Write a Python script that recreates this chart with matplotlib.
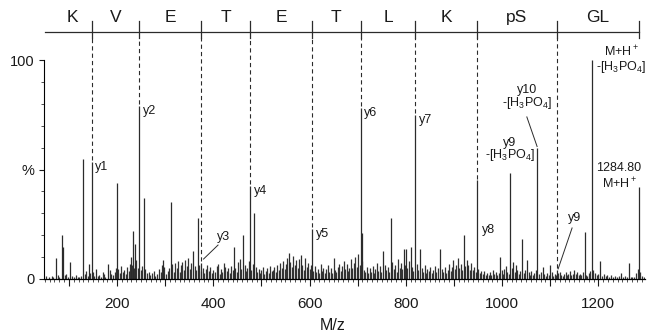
"""MS/MS spectrum of phosphopeptide with y-ion ladder annotation."""

import matplotlib

matplotlib.use("Agg")
import matplotlib.pyplot as plt
from matplotlib.ticker import MultipleLocator, FixedLocator, FuncFormatter

plt.rcParams["font.family"] = ["Liberation Sans", "DejaVu Sans"]
plt.rcParams["mathtext.fontset"] = "custom"
plt.rcParams["mathtext.rm"] = "Liberation Sans"
plt.rcParams["mathtext.it"] = "Liberation Sans:italic"

# residue ladder (read right to left on the y-ion series)
residues = ["K", "V", "E", "T", "E", "T", "L", "K", "pS", "GL"]
ladder_start = 69.0
y_ion_mz = [147.1, 246.2, 375.2, 476.3, 605.3, 706.4, 819.5, 947.6, 1114.6, 1284.8]
y_ion_int = [53.5, 79.0, 7.5, 42.5, 23.0, 78.0, 75.0, 45.0, 4.2]
y_ion_names = ["y1", "y2", "y3", "y4", "y5", "y6", "y7", "y8", "y9"]

# other prominent peaks
peak_mz = [73.2, 85.7, 87.8, 102.3, 129.3, 141.8, 156.4, 181.3, 200.0, 229.1,
           233.2, 237.4, 256.1, 295.6, 312.2, 357.9, 368.3, 443.1, 461.8, 484.7,
           557.4, 582.4, 708.5, 752.7, 769.4, 796.4, 800.5, 810.9, 829.6, 871.2,
           921.1, 927.3, 995.9, 1016.6, 1022.9, 1029.1, 1041.6, 1052.0, 1073.6,
           1085.2, 1099.8, 1171.6, 1186.8, 1203.7, 1247.3, 1263.9, 1284.8]
peak_int = [9.6, 20.0, 14.5, 7.8, 55.0, 6.8, 4.5, 6.8, 44.0, 10.0,
            22.0, 16.0, 37.0, 8.7, 35.0, 13.0, 28.0, 14.5, 20.0, 30.0,
            12.0, 11.0, 21.0, 13.0, 28.0, 13.7, 13.7, 14.6, 13.7, 13.7,
            20.0, 8.7, 10.0, 48.5, 7.8, 6.4, 18.3, 8.7, 60.0,
            5.5, 6.4, 21.5, 100.0, 8.2, 2.7, 7.3, 42.0]

# low-level background peaks
noise_mz = [52, 58, 64, 68, 77, 80, 91, 95, 98, 106, 110, 114, 118, 122, 126, 133,
            136, 139, 144, 151, 153, 160, 163, 166, 170, 173, 176, 185, 188, 191, 195,
            198, 203, 206, 209, 212, 215, 218, 221, 224, 226, 231, 235, 240, 243, 249,
            252, 259, 262, 266, 269, 272, 276, 279, 283, 287, 291, 294, 298, 301, 305,
            308, 315, 318, 321, 324, 327, 330, 333, 336, 339, 342, 345, 348, 351, 354,
            361, 364, 371, 374, 378, 381, 384, 388, 391, 394, 397, 400, 404, 407, 410,
            413, 416, 419, 422, 425, 428, 431, 434, 437, 440, 446, 449, 452, 455, 458,
            465, 468, 471, 474, 479, 482, 488, 491, 494, 497, 500, 503, 506, 509, 512,
            515, 518, 521, 524, 527, 530, 533, 536, 539, 542, 545, 548, 551, 554, 560,
            563, 566, 569, 572, 575, 578, 585, 588, 591, 594, 597, 600, 603, 608, 611,
            614, 617, 620, 623, 626, 629, 632, 635, 638, 641, 644, 647, 650, 653, 656,
            659, 662, 665, 668, 671, 674, 677, 680, 683, 686, 689, 692, 695, 698, 701,
            704, 710, 713, 716, 719, 722, 725, 728, 731, 734, 737, 740, 743, 746, 749,
            756, 759, 762, 765, 772, 775, 778, 781, 784, 787, 790, 793, 799, 803, 806,
            813, 816, 823, 826, 833, 836, 839, 842, 845, 848, 851, 854, 857, 860, 863,
            866, 875, 878, 881, 884, 887, 890, 893, 896, 899, 902, 905, 908, 911, 914,
            917, 924, 930, 933, 936, 939, 942, 945, 951, 954, 957, 960, 963, 966, 969,
            972, 975, 978, 981, 984, 987, 990, 993, 999, 1002, 1005, 1008, 1011, 1014,
            1020, 1026, 1032, 1035, 1038, 1045, 1048, 1055, 1058, 1061, 1064, 1067,
            1070, 1077, 1080, 1088, 1091, 1094, 1097, 1103, 1106, 1109, 1112, 1117,
            1120, 1123, 1126, 1129, 1132, 1135, 1138, 1141, 1144, 1147, 1150, 1153,
            1156, 1159, 1162, 1165, 1168, 1174, 1177, 1180, 1183, 1189, 1193, 1197,
            1200, 1207, 1211, 1215, 1219, 1223, 1227, 1231, 1235, 1239, 1243, 1251,
            1255, 1259, 1267, 1271, 1275, 1279, 1282, 1287, 1291, 1295]
noise_int = [1.2, 0.8, 1.5, 0.9, 2.0, 1.1, 1.6, 2.4, 1.0, 1.3, 0.8, 1.8, 1.0, 0.7, 1.2, 2.2,
             3.5, 1.4, 2.8, 3.0, 1.5, 1.2, 2.0, 1.1, 3.4, 2.1, 1.0, 4.0, 2.5, 1.8, 3.2,
             5.0, 4.4, 2.6, 5.8, 3.0, 4.1, 2.3, 5.5, 3.6, 7.0, 6.5, 4.8, 8.5, 5.0, 3.9,
             6.0, 4.5, 2.8, 3.4, 1.9, 2.6, 3.8, 1.5, 2.2, 4.6, 3.0, 6.2, 5.3, 2.4, 3.6,
             4.9, 6.8, 3.1, 7.5, 5.0, 8.2, 3.3, 6.4, 7.9, 4.2, 8.8, 6.1, 9.5, 4.4, 7.2,
             5.8, 4.0, 6.6, 3.5, 5.2, 2.9, 4.7, 6.3, 3.8, 5.5, 2.7, 4.1, 3.2, 5.9, 6.8,
             2.5, 4.4, 3.0, 7.1, 5.4, 3.6, 4.8, 2.6, 6.0, 3.9, 5.1, 3.3, 7.8, 9.0, 4.5,
             6.2, 3.7, 5.0, 8.0, 4.3, 6.9, 5.6, 3.4, 4.6, 2.8, 3.9, 5.3, 2.4, 3.7, 4.8,
             2.9, 6.1, 3.5, 4.2, 5.7, 3.1, 6.6, 4.0, 7.3, 5.2, 8.4, 4.7, 6.9, 9.8, 7.6,
             5.4, 10.5, 6.2, 8.9, 5.0, 9.3, 6.4, 4.1, 9.6, 5.7, 7.4, 4.6, 6.5, 3.8, 5.9,
             3.0, 4.6, 2.7, 6.8, 3.5, 5.1, 2.9, 4.4, 6.6, 3.2, 5.0, 2.6, 9.8, 4.3, 3.1,
             5.6, 7.0, 3.8, 6.1, 8.3, 4.5, 6.9, 3.6, 5.2, 9.0, 4.8, 7.5, 10.0, 5.3, 11.2,
             6.6, 8.0, 4.2, 3.0, 5.4, 2.6, 4.9, 3.3, 6.0, 2.8, 4.4, 7.2, 3.5, 5.8, 3.1,
             6.3, 4.0, 5.5, 3.2, 7.7, 4.6, 6.2, 3.4, 9.0, 5.1, 7.3, 4.4, 6.6, 4.9, 8.1,
             5.5, 3.7, 6.8, 4.1, 5.0, 3.3, 6.4, 2.9, 4.7, 3.5, 5.6, 2.7, 4.2, 6.0, 3.4,
             5.1, 4.5, 3.0, 5.3, 2.6, 4.0, 6.7, 3.6, 5.4, 8.6, 4.4, 6.2, 9.4, 5.0, 7.0,
             4.1, 5.8, 6.5, 3.9, 7.1, 4.3, 5.5, 3.2, 4.6, 2.8, 3.7, 2.2, 3.5, 1.9, 2.8,
             1.6, 3.0, 2.0, 4.2, 2.5, 3.3, 1.8, 2.7, 3.9, 2.3, 4.6, 6.0, 3.1, 2.4,
             5.2, 3.4, 4.0, 2.2, 3.6, 2.8, 4.1, 3.0, 2.0, 3.5, 1.8, 2.6,
             3.9, 2.4, 3.2, 2.1, 1.5, 2.7, 1.9, 3.0, 1.4, 2.3, 1.7, 2.8,
             3.4, 2.0, 1.5, 2.4, 3.1, 1.6, 2.2, 3.6, 1.8, 2.5, 4.0, 2.2,
             3.0, 1.6, 2.4, 1.7, 3.3, 2.0, 1.4, 2.6, 3.5, 4.2, 2.8, 1.6,
             2.1, 1.5, 2.3, 1.2, 1.8, 1.1, 1.6, 0.9, 1.4, 1.0, 1.3, 0.8,
             1.2, 0.9, 1.1, 0.8, 1.0, 2.6, 4.5, 3.0, 1.2, 0.8]

INK = "#2b2b2b"
LADDER_Y = 112.6
TEXT_Y = 119.6

fig = plt.figure(figsize=(6.51, 3.34), dpi=100)
ax = fig.add_axes([44 / 651, 55 / 334, 601 / 651, 219 / 334])
ax.set_xlim(48.3, 1297)
ax.set_ylim(0, 100)

ax.vlines(noise_mz, 0, noise_int, color="#333333", lw=0.9)
ax.vlines(peak_mz, 0, peak_int, color=INK, lw=0.9)
ax.vlines(y_ion_mz[:-1], 0, y_ion_int, color=INK, lw=0.9)

# sequence ladder on top
ax.plot([50.4, y_ion_mz[-1]], [LADDER_Y, LADDER_Y], color=INK, lw=0.9, clip_on=False)
for mz in y_ion_mz:
    ax.plot([mz, mz], [110.0, 117.8], color=INK, lw=0.9, clip_on=False)
for mz, top in zip(y_ion_mz[:-1], y_ion_int):
    ax.plot([mz, mz], [top + 0.8, 110.0], color=INK, lw=0.8,
            ls=(0, (3.8, 2.8)), clip_on=False)
bounds = [ladder_start] + y_ion_mz
for i, res in enumerate(residues):
    ax.text((bounds[i] + bounds[i + 1]) / 2, TEXT_Y, res, ha="center", va="center",
            fontsize=12.5, color="#1a1a1a", clip_on=False)

# y-ion labels right of the peak tops
for name, mz, top in zip(y_ion_names, y_ion_mz, y_ion_int):
    if name in ("y3", "y8", "y9"):
        continue
    ax.annotate(name, (mz, top), xytext=(2.5, 0.5), textcoords="offset points",
                ha="left", va="top", fontsize=9, color="#1a1a1a")
lab = dict(fontsize=9, color="#1a1a1a", ha="center", va="center")
ax.text(958.5, 22.4, "y8", **{**lab, "ha": "left"})
ax.text(422.3, 19.2, "y3", **lab)
ax.plot([379.7, 409.9], [9.1, 15.5], color=INK, lw=0.7)
ax.text(1151.7, 27.9, "y9", **lab)
ax.plot([1116.5, 1145.5], [4.6, 23.3], color=INK, lw=0.7)

ax.text(1016.7, 62.1, "y9", **lab)
ax.text(1016.7, 56.4, r"-[H$_3$PO$_4$]", **lab)
ax.text(1052.0, 86.3, "y10", **lab)
ax.text(1052.0, 80.4, r"-[H$_3$PO$_4$]", **lab)
ax.plot([1051.5, 1072.8], [74.0, 60.5], color=INK, lw=0.7)
ax.text(1247.3, 103.6, r"M+H$^+$", clip_on=False, **lab)
ax.text(1247.3, 96.8, r"-[H$_3$PO$_4$]", clip_on=False, **lab)
ax.text(1243.0, 50.7, "1284.80", **lab)
ax.text(1243.0, 43.3, r"M+H$^+$", **lab)

# axes styling
for side in ("top", "right"):
    ax.spines[side].set_visible(False)
ax.spines["left"].set_bounds(0, 100)
ax.spines["left"].set_linewidth(0.8)
ax.spines["bottom"].set_linewidth(0.9)

ax.xaxis.set_major_locator(MultipleLocator(100))
ax.xaxis.set_minor_locator(MultipleLocator(10))
ax.xaxis.set_major_formatter(FuncFormatter(lambda v, p: f"{v:.0f}" if v % 200 == 0 else ""))
ax.yaxis.set_major_locator(FixedLocator([0, 50, 100]))
ax.yaxis.set_minor_locator(MultipleLocator(10))
ax.set_yticklabels(["0", "%", "100"])
ax.tick_params(axis="x", which="major", length=5, width=0.8, pad=8, labelsize=11,
               colors="#1a1a1a")
ax.tick_params(axis="x", which="minor", length=2.2, width=0.6, colors="#333333")
ax.tick_params(axis="y", which="major", length=3.6, width=0.8, pad=3, labelsize=10.5,
               colors="#1a1a1a")
ax.tick_params(axis="y", which="minor", length=2.2, width=0.6, colors="#333333")

fig.text(333 / 651, 1 - 325 / 334, "M/z", ha="center", va="center", fontsize=11.5,
         color="#1a1a1a")

fig.savefig("out.png", dpi=100)
